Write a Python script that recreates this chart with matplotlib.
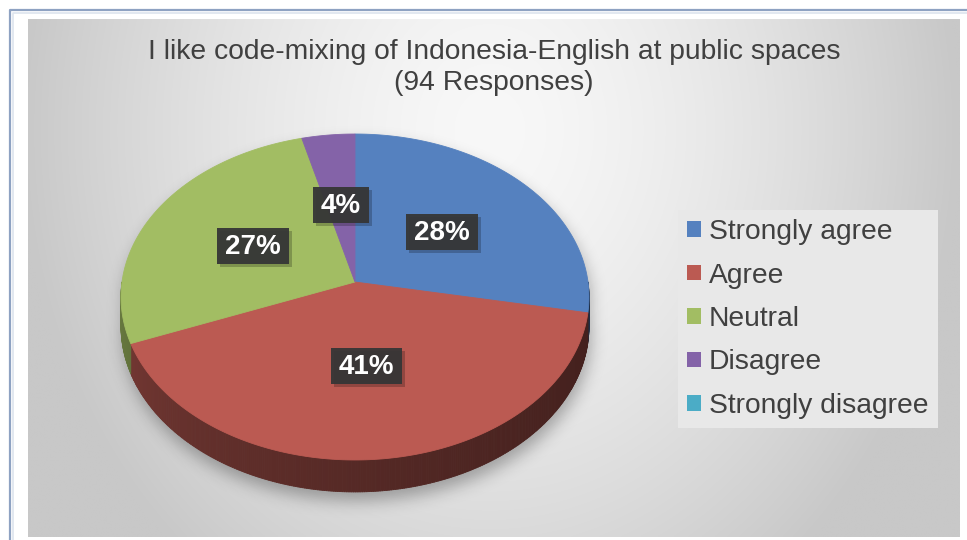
import numpy as np
import matplotlib
matplotlib.use('Agg')
import matplotlib.pyplot as plt
from matplotlib.patches import Polygon, Rectangle, Patch
from matplotlib.collections import PolyCollection
from matplotlib.path import Path
from matplotlib.colors import to_rgb

# ---- data -------------------------------------------------------------
categories = ['Strongly agree', 'Agree', 'Neutral', 'Disagree', 'Strongly disagree']
shares = [28, 41, 27, 4, 0]          # percent of the 94 responses
colors = ['#5581bf', '#bb5a52', '#a2bd63', '#8463a8', '#4bacc6']
title_lines = ['I like code-mixing of Indonesia-English at public spaces',
               '(94 Responses)']

plt.rcParams['font.family'] = ['Liberation Sans', 'DejaVu Sans']

W, H = 967, 540
fig = plt.figure(figsize=(W / 100, H / 100), dpi=100)
fig.patch.set_facecolor('white')
ax = fig.add_axes([0, 0, 1, 1])
ax.set_xlim(0, W)
ax.set_ylim(H, 0)
ax.axis('off')

# ---- chart area background (soft radial gradient) ---------------------
PX0, PX1, PY0, PY1 = 28, 960, 19, 537
gx = np.linspace(PX0, PX1, 400)
gy = np.linspace(PY0, PY1, 240)
XX, YY = np.meshgrid(gx, gy)
dx = (XX - 490) / 470.0
dy = (YY - 130) / 560.0
d = np.clip(np.sqrt(dx ** 2 + dy ** 2), 0, 1.0)
val = (248 - 48 * d ** 1.5) / 255.0
bg = np.dstack([val, val, val])
ax.imshow(bg, extent=[PX0, PX1, PY1, PY0], aspect='auto', zorder=0,
          interpolation='bilinear')

# outer frame of the chart object
ax.plot([10, 10, W + 5], [H + 5, 10, 10], color='#8ea2c2', lw=1.6, zorder=1)
ax.plot([13, 13, W + 5], [H + 5, 13, 13], color='#dde4ee', lw=1.2, zorder=1)

# ---- 3D pie geometry (pixel space, mild perspective) ------------------
CX, CY = 355, 282
R, A, K = 233, 161.6, 0.092
DEPTH = 29


def proj(theta_deg, f=1.0):
    t = np.radians(theta_deg)
    u, v = f * np.cos(t), f * np.sin(t)
    dd = 1 + K * v
    return CX + R * u / dd, CY - A * v / dd


def side_drop(theta_deg):
    v = np.sin(np.radians(theta_deg))
    return DEPTH / (1 + K * v)


total = float(sum(shares))
bounds = []
cum = 0.0
for s in shares:
    a0 = 90 - cum / total * 360
    cum += s
    a1 = 90 - cum / total * 360
    bounds.append((a0, a1))

# ---- drop shadow under the pie ------------------------------------------
th = np.linspace(0, 180, 200)
top_x, top_y = proj(th)
th2 = np.linspace(180, 360, 200)
bx, by = proj(th2)
by = by + side_drop(th2)
outline = np.column_stack([np.concatenate([top_x, bx]),
                           np.concatenate([top_y, by])])
sx, sy = np.meshgrid(np.arange(W) + 0.5, np.arange(H) + 0.5)
mask = Path(outline + np.array([2, 9])).contains_points(
    np.column_stack([sx.ravel(), sy.ravel()])).reshape(H, W).astype(float)


def blur1d(img, sigma, axis):
    r = int(3 * sigma)
    k = np.exp(-0.5 * (np.arange(-r, r + 1) / sigma) ** 2)
    k /= k.sum()
    pad = [(0, 0), (0, 0)]
    pad[axis] = (r, r)
    p = np.pad(img, pad, mode='constant')
    out = np.zeros_like(img)
    n = img.shape[axis]
    for i, w in enumerate(k):
        if axis == 0:
            out += w * p[i:i + n, :]
        else:
            out += w * p[:, i:i + n]
    return out


soft = blur1d(blur1d(mask, 8, 0), 8, 1)
shadow = np.zeros((H, W, 4))
shadow[..., 3] = 0.30 * soft
ax.imshow(shadow, extent=[0, W, H, 0], aspect='auto', zorder=2,
          interpolation='bilinear')

# ---- side wall (front half only) --------------------------------------
quads, qcols = [], []
for (a0, a1), col in zip(bounds, colors):
    lo, hi = max(a1, -180), min(a0, 0)
    if hi <= lo:
        continue
    n = max(2, int((hi - lo) / 0.5))
    ts = np.linspace(lo, hi, n + 1)
    base = np.array(to_rgb(col))
    for t0, t1 in zip(ts[:-1], ts[1:]):
        x0, y0 = proj(t0)
        x1, y1 = proj(t1)
        quads.append([(x0, y0), (x1, y1),
                      (x1, y1 + side_drop(t1)), (x0, y0 + side_drop(t0))])
        tm = -(t0 + t1) / 2 / 180.0
        fac = 0.36 + 0.30 * tm ** 1.6
        qcols.append(np.clip(base * fac, 0, 1))
ax.add_collection(PolyCollection(quads, facecolors=qcols, edgecolors=qcols,
                                 linewidths=0.6, zorder=3))

# ---- top faces ----------------------------------------------------------
for (a0, a1), col in zip(bounds, colors):
    if a0 - a1 <= 0:
        continue
    ts = np.linspace(a0, a1, max(3, int((a0 - a1) * 2)))
    xs, ys = proj(ts)
    pts = np.column_stack([np.r_[CX, xs], np.r_[CY, ys]])
    ax.add_patch(Polygon(pts, closed=True, fc=col, ec=col, lw=0.6, zorder=4))

# ---- data labels (dark boxes) -------------------------------------------
fig.canvas.draw()
renderer = fig.canvas.get_renderer()
for (a0, a1), s in zip(bounds, shares):
    if s <= 0:
        continue
    lx, ly = proj((a0 + a1) / 2, 0.5)
    t = ax.text(lx, ly + 1, f'{s}%', color='white', fontsize=20,
                fontweight='bold', ha='center', va='center', zorder=8)
    bb = t.get_window_extent(renderer)
    bw = bb.width + 16
    bh = 36
    ax.add_patch(Rectangle((lx - bw / 2 + 3, ly - bh / 2 + 3), bw, bh,
                           fc='#000000', alpha=0.22, ec='none', zorder=6))
    ax.add_patch(Rectangle((lx - bw / 2, ly - bh / 2), bw, bh,
                           fc='#363636', alpha=0.95, ec='none', zorder=7))

# ---- title --------------------------------------------------------------
ax.text(494, 52, title_lines[0], fontsize=20.3, color='#404040',
        ha='center', va='center', zorder=8)
ax.text(494, 83, title_lines[1], fontsize=20.3, color='#404040',
        ha='center', va='center', zorder=8)

# ---- legend ---------------------------------------------------------------
handles = [Patch(facecolor=c, edgecolor='none', label=n)
           for c, n in zip(colors, categories)]
leg = ax.legend(handles=handles, loc='upper left',
                bbox_to_anchor=(678 / W, 1 - 210 / H), frameon=True,
                fancybox=False, facecolor='#e8e8e8', edgecolor='none',
                framealpha=1.0, fontsize=20.3, handlelength=0.48,
                handleheight=0.48, handletextpad=0.3, labelspacing=0.62,
                borderpad=0.32, borderaxespad=0)
for txt in leg.get_texts():
    txt.set_color('#404040')
leg.set_zorder(9)

fig.savefig('out.png', dpi=100, facecolor='white')
